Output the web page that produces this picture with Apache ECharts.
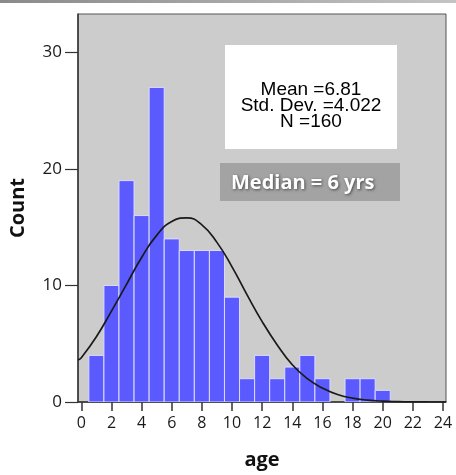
<!DOCTYPE html>
<html>
<head>
<meta charset="utf-8">
<script src="https://cdn.jsdelivr.net/npm/echarts@6/dist/echarts.min.js"></script>
<style>
  html, body { margin: 0; padding: 0; background: #fff; }
  #main { width: 456px; height: 475px; }
</style>
</head>
<body>
<div id="main"></div>
<script type="text/javascript">
  // histogram bins (age, centred on whole years) and counts
  var ages = [1, 2, 3, 4, 5, 6, 7, 8, 9, 10, 11, 12, 13, 14, 15, 16, 17, 18, 19, 20];
  var counts = [4, 10, 19, 16, 27, 14, 13, 13, 13, 9, 2, 4, 2, 3, 4, 2, 0, 2, 2, 1];

  // normal curve
  var curveX = [-0.22, 0, 1, 2, 3, 4, 5, 6, 7, 8, 9, 10, 11, 12, 13, 14, 15, 16, 17, 18, 19, 20, 21, 22, 23, 24.2];
  var curveY = [3.6, 3.8, 5.6, 7.8, 10.1, 12.4, 14.3, 15.5, 15.8, 15.2, 13.7, 11.6, 9.2, 6.9, 4.9, 3.2, 2.0, 1.2, 0.64, 0.33, 0.16, 0.07, 0.03, 0.01, 0.004, 0];

  var xTicks = [0, 2, 4, 6, 8, 10, 12, 14, 16, 18, 20, 22, 24];
  var yTicks = [0, 10, 20, 30];

  var chart = echarts.init(document.getElementById('main'));

  var barData = ages.map(function (a, i) { return [a, counts[i]]; });
  var lineData = curveX.map(function (x, i) { return [x, curveY[i]]; });

  var option = {
    animation: false,
    textStyle: { fontFamily: 'Open Sans' },
    grid: {
      left: 75, right: 10, top: 14, bottom: 69,
      show: true,
      backgroundColor: '#cccccc',
      borderColor: '#555',
      borderWidth: 1
    },
    xAxis: {
      type: 'value',
      min: -0.22,
      max: 24.2,
      name: 'age',
      nameLocation: 'middle',
      nameGap: 48,
      nameTextStyle: { fontSize: 20, fontWeight: 'bold', color: '#111' },
      axisLine: { show: true, onZero: false, lineStyle: { color: '#333', width: 1.5 } },
      axisTick: { show: true, length: 9, customValues: xTicks, lineStyle: { color: '#333', width: 1.5 } },
      axisLabel: { customValues: xTicks, margin: 13, fontSize: 16, color: '#1a1a1a' },
      splitLine: { show: false }
    },
    yAxis: {
      type: 'value',
      min: 0,
      max: 33.3,
      name: 'Count',
      nameLocation: 'middle',
      nameGap: 50,
      nameTextStyle: { fontSize: 20, fontWeight: 'bold', color: '#111' },
      axisLine: { show: true, onZero: false, lineStyle: { color: '#333', width: 1.5 } },
      axisTick: { show: true, length: 13, customValues: yTicks, lineStyle: { color: '#333', width: 1.2 } },
      axisLabel: { customValues: yTicks, margin: 16, fontSize: 17, color: '#1a1a1a' },
      splitLine: { show: false }
    },
    series: [
      {
        type: 'custom',
        data: barData,
        clip: true,
        renderItem: function (params, api) {
          var x = api.value(0), y = api.value(1);
          if (!y) return;
          var p0 = api.coord([x - 0.5, y]);
          var p1 = api.coord([x + 0.5, 0]);
          return {
            type: 'rect',
            shape: { x: p0[0], y: p0[1], width: p1[0] - p0[0], height: p1[1] - p0[1] },
            style: { fill: '#5a5aff', stroke: '#dcdcff', lineWidth: 1 }
          };
        }
      },
      {
        type: 'line',
        data: lineData,
        smooth: true,
        showSymbol: false,
        clip: true,
        lineStyle: { color: '#1a1a1a', width: 1.7 },
        z: 3
      }
    ],
    graphic: [
      {
        type: 'rect',
        left: 0, top: 0,
        shape: { width: 456, height: 3 },
        style: {
          fill: new echarts.graphic.LinearGradient(0, 0, 1, 0, [
            { offset: 0, color: '#8a8a8a' },
            { offset: 1, color: '#c4c4c4' }
          ])
        }
      },
      {
        type: 'group',
        left: 225, top: 45,
        children: [
          { type: 'rect', shape: { x: 0, y: 0, width: 172, height: 104 }, style: { fill: '#ffffff' } },
          {
            type: 'text',
            x: 86, y: 61,
            style: {
              text: 'Mean =6.81\nStd. Dev. =4.022\nN =160',
              fontFamily: 'Liberation Sans',
              fontSize: 19,
              lineHeight: 16,
              fill: '#000',
              align: 'center',
              verticalAlign: 'middle'
            }
          }
        ]
      },
      {
        type: 'group',
        left: 220, top: 163,
        children: [
          { type: 'rect', shape: { x: 0, y: 0, width: 180, height: 38 }, style: { fill: '#a3a3a3' } },
          {
            type: 'text',
            x: 11, y: 20,
            style: {
              text: 'Median = 6 yrs',
              fontFamily: 'Open Sans',
              fontWeight: 'bold',
              fontSize: 20,
              fill: '#ffffff',
              verticalAlign: 'middle',
              textShadowColor: 'rgba(0,0,0,0.55)',
              textShadowBlur: 3,
              textShadowOffsetX: 1,
              textShadowOffsetY: 1
            }
          }
        ]
      }
    ]
  };

  chart.setOption(option);
</script>
</body>
</html>
